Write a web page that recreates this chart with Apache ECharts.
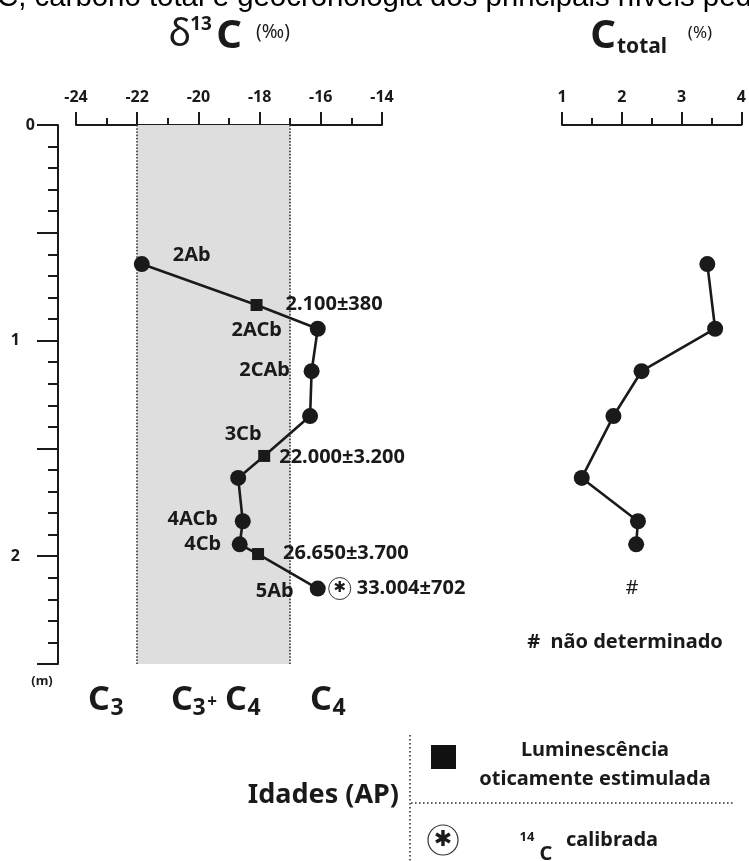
<!DOCTYPE html>
<html>
<head>
<meta charset="utf-8">
<title>δ13C, carbono total e geocronologia</title>
<script src="https://cdn.jsdelivr.net/npm/echarts@6/dist/echarts.min.js"></script>
<style>
  html, body { margin: 0; padding: 0; background: #fff; }
  #main { width: 749px; height: 861px; }
</style>
</head>
<body>
<div id="main"></div>
<script>
/************************************ 数据 *******************************/
var depthLabels = [0, 1, 2];                 // profundidade (m) com rótulo
var d13cRange = [-24, -14];                  // eixo δ13C (‰)
var ctotalRange = [1, 4];                    // eixo C total (%)
var c3c4Band = [-22, -17];                   // faixa C3+C4

// perfil δ13C (amostras + idades LOE no mesmo traço)
var d13cDepth  = [0.645, 0.835, 0.945, 1.142, 1.35, 1.535, 1.637, 1.838, 1.945, 1.99, 2.15];
var d13cValue  = [-21.85, -18.1, -16.1, -16.3, -16.35, -17.85, -18.7, -18.55, -18.65, -18.05, -16.1];
var d13cMarker = ['circle', 'rect', 'circle', 'circle', 'circle', 'rect', 'circle', 'circle', 'circle', 'rect', 'circle'];
var horizonName = ['2Ab', '', '2ACb', '2CAb', '3Cb', '', '', '4ACb', '4Cb', '', '5Ab'];
var ageText     = ['', '2.100±380', '', '', '', '22.000±3.200', '', '', '', '26.650±3.700', '33.004±702'];
var calibrated  = [false, false, false, false, false, false, false, false, false, false, true];

// carbono total
var ctDepth = [0.645, 0.945, 1.142, 1.35, 1.637, 1.838, 1.945];
var ctValue = [3.43, 3.56, 2.33, 1.86, 1.33, 2.27, 2.24];
var ctMissing = [[2.17, 2.15]];              // # não determinado

/************************************ 样式 *******************************/
var ink = '#1a1a1a';
var boldFont = 'Noto Sans';
// deslocamento dos rótulos (px) em relação ao ponto
var nameOffset = [[50, -9], null, [-61, 2], [-47, -1], [-67, 18], null, null, [-50, -2], [-37, 0], null, [-43, 3]];
var ageOffset  = [null, [29, -1], null, null, null, [15, 1], null, null, null, [25, -1], [39, 0]];

var chart = echarts.init(document.getElementById('main'));

var lineData = [], ageData = [], calData = [];
for (var i = 0; i < d13cDepth.length; i++) {
  var item = {
    value: [d13cValue[i], d13cDepth[i]],
    symbol: d13cMarker[i],
    symbolSize: d13cMarker[i] == 'rect' ? 12 : 16
  };
  if (horizonName[i]) {
    item.label = {
      show: true, position: 'inside', formatter: horizonName[i],
      offset: nameOffset[i], align: 'center', verticalAlign: 'middle'
    };
  }
  lineData.push(item);
  if (ageText[i]) {
    ageData.push({
      value: [d13cValue[i], d13cDepth[i]],
      label: { formatter: ageText[i], offset: ageOffset[i] }
    });
  }
  if (calibrated[i]) calData.push([d13cValue[i], d13cDepth[i]]);
}
var ctData = ctDepth.map(function (d, k) { return [ctValue[k], d]; });

var labelStyle = { fontFamily: boldFont, fontWeight: 'bold', fontSize: 20, color: ink, textBorderWidth: 0 };

function depthAxis(gridIndex, visible) {
  return {
    type: 'value', gridIndex: gridIndex, inverse: true, min: 0, max: 2.5, interval: 0.5,
    show: visible, position: 'left', offset: 18,
    axisLine: { show: true, lineStyle: { color: ink, width: 2 } },
    axisTick: { show: true, length: 21, lineStyle: { color: ink, width: 2 } },
    minorTick: { show: true, splitNumber: 5, length: 10, lineStyle: { color: ink, width: 2 } },
    splitLine: { show: false },
    axisLabel: {
      margin: 23,
      formatter: function (v) {
        if (depthLabels.indexOf(v) < 0) return '';
        return v === 0 ? '{z|0}' : '{n|' + v + '}';
      },
      rich: {
        z: { fontFamily: boldFont, fontWeight: 'bold', fontSize: 16, color: ink },
        n: { fontFamily: boldFont, fontWeight: 'bold', fontSize: 16, color: ink, padding: [0, 15, 0, 0] }
      }
    }
  };
}

function topAxis(gridIndex, range, step) {
  return {
    type: 'value', gridIndex: gridIndex, position: 'top', min: range[0], max: range[1], interval: step,
    axisLine: { show: true, lineStyle: { color: ink, width: 2 } },
    axisTick: { show: true, inside: false, length: 13, lineStyle: { color: ink, width: 2 } },
    minorTick: { show: true, splitNumber: 2, length: 7, lineStyle: { color: ink, width: 2 } },
    splitLine: { show: false },
    axisLabel: { margin: 20, fontFamily: boldFont, fontWeight: 'bold', fontSize: 16, color: ink }
  };
}

function txt(x, y, text, size, opt) {
  opt = opt || {};
  return {
    type: 'text', x: x, y: y, silent: true,
    style: {
      text: text, fontSize: size, fill: opt.fill || ink,
      fontFamily: opt.family || boldFont, fontWeight: opt.weight || 'bold',
      align: opt.align || 'center', verticalAlign: 'middle'
    }
  };
}

var dotted = { stroke: '#333', lineWidth: 1.6, lineDash: [1.6, 2.4] };

var option = {
  backgroundColor: '#fff',
  animation: false,
  grid: [
    { left: 76, top: 125, width: 306, height: 539 },
    { left: 562, top: 125, width: 181, height: 539 }
  ],
  xAxis: [topAxis(0, d13cRange, 2), topAxis(1, ctotalRange, 1)],
  yAxis: [depthAxis(0, true), depthAxis(1, false)],
  series: [
    {
      name: 'δ13C', type: 'line', xAxisIndex: 0, yAxisIndex: 0, z: 5,
      data: lineData,
      lineStyle: { color: ink, width: 2.6 },
      itemStyle: { color: ink },
      label: labelStyle,
      markArea: {
        silent: true,
        itemStyle: { color: '#dedede' },
        data: [[{ xAxis: c3c4Band[0] }, { xAxis: c3c4Band[1] }]]
      },
      markLine: {
        silent: true, symbol: 'none',
        label: { show: false },
        lineStyle: { color: '#333', type: 'dotted', width: 1.6 },
        data: [{ xAxis: c3c4Band[0] }, { xAxis: c3c4Band[1] }]
      }
    },
    {
      name: 'Idades', type: 'scatter', xAxisIndex: 0, yAxisIndex: 0, z: 6,
      symbolSize: 0, itemStyle: { color: ink, opacity: 1 },
      label: Object.assign({ show: true, position: 'inside', align: 'left', verticalAlign: 'middle' }, labelStyle),
      data: ageData
    },
    {
      name: '14C calibrada', type: 'scatter', xAxisIndex: 0, yAxisIndex: 0, z: 6,
      symbol: 'circle', symbolSize: 22, symbolOffset: [22, 0],
      itemStyle: { color: '#fff', borderColor: '#333', borderWidth: 1, opacity: 1 },
      label: { show: true, position: 'inside', formatter: '✱', fontSize: 15, color: ink, fontFamily: 'DejaVu Sans' },
      data: calData
    },
    {
      name: 'C total', type: 'line', xAxisIndex: 1, yAxisIndex: 1, z: 5,
      data: ctData, symbol: 'circle', symbolSize: 16,
      lineStyle: { color: ink, width: 2.6 },
      itemStyle: { color: ink }
    },
    {
      name: 'não determinado', type: 'scatter', xAxisIndex: 1, yAxisIndex: 1,
      symbolSize: 0, itemStyle: { color: ink, opacity: 1 },
      label: { show: true, position: 'inside', formatter: '#', fontSize: 20, color: ink, fontFamily: boldFont, textBorderWidth: 0 },
      data: ctMissing
    }
  ],
  graphic: [
    txt(-3, -2, 'C, carbono total e geocronologia dos principais níveis pedológicos', 29.4,
        { family: 'Liberation Sans', weight: 'normal', align: 'left', fill: '#000' }),
    // δ13C (‰)
    txt(180, 35, 'δ', 38, { weight: 'normal' }),
    txt(201, 25, '13', 19),
    txt(229, 37, 'C', 40),
    txt(273, 33, '(‰)', 19, { weight: 'normal' }),
    // C total (%)
    txt(603, 37, 'C', 40),
    txt(642, 47, 'total', 21),
    txt(700, 33, '(%)', 17, { weight: 'normal' }),
    // rodapé do eixo
    txt(42, 681, '(m)', 13),
    txt(99, 700, 'C', 34), txt(117, 708, '3', 23),
    txt(182, 700, 'C', 34), txt(199, 708, '3', 23), txt(212, 702, '+', 17),
    txt(236, 700, 'C', 34), txt(254, 708, '4', 23),
    txt(321, 700, 'C', 34), txt(339, 708, '4', 23),
    txt(625, 642, '#  não determinado', 20),
    // legenda Idades (AP)
    { type: 'line', silent: true, shape: { x1: 410, y1: 735, x2: 410, y2: 861 }, style: dotted },
    { type: 'line', silent: true, shape: { x1: 411, y1: 803, x2: 733, y2: 803 }, style: dotted },
    txt(399, 795, 'Idades (AP)', 27, { align: 'right' }),
    { type: 'rect', silent: true, shape: { x: 431, y: 745, width: 25, height: 24 }, style: { fill: '#111' } },
    txt(595, 750, 'Luminescência', 20),
    txt(595, 779, 'oticamente estimulada', 20),
    { type: 'circle', silent: true, shape: { cx: 443, cy: 840, r: 15 }, style: { fill: '#fff', stroke: '#333', lineWidth: 1.2 } },
    txt(443, 840, '✱', 22, { family: 'DejaVu Sans' }),
    txt(527, 837, '14', 13),
    txt(546, 854, 'C', 20),
    txt(566, 840, 'calibrada', 20, { align: 'left' })
  ]
};

chart.setOption(option);
</script>
</body>
</html>
